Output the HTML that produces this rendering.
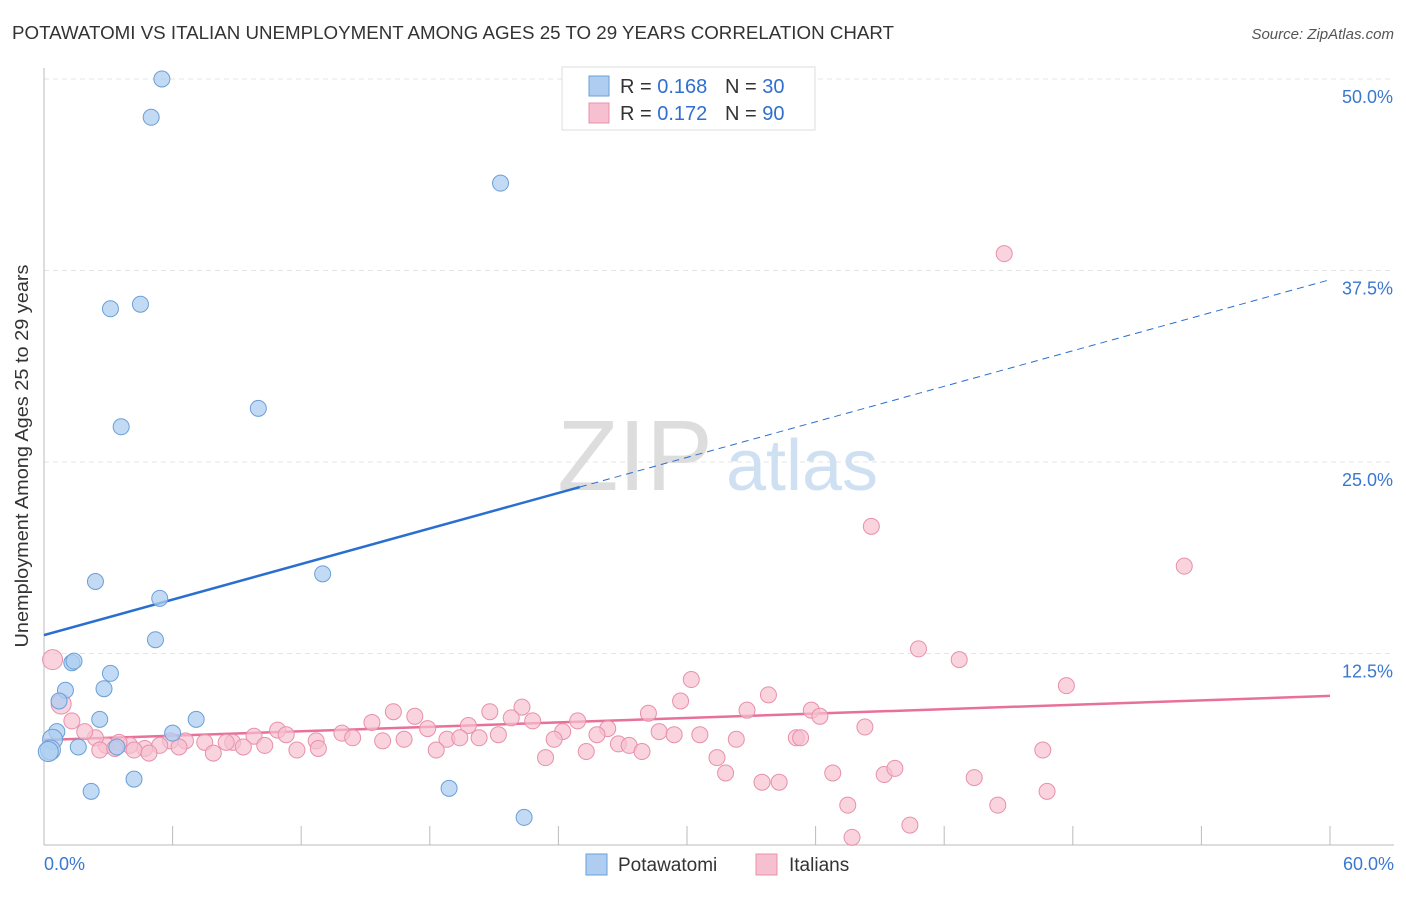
<!DOCTYPE html>
<html><head><meta charset="utf-8"><style>
body{margin:0;background:#fff;font-family:"Liberation Sans",sans-serif;}
svg text{font-family:"Liberation Sans",sans-serif;}
</style></head><body>
<svg id="chart" width="1406" height="892" xmlns="http://www.w3.org/2000/svg">
<text x="12" y="39" font-size="18.5" fill="#333" textLength="882" lengthAdjust="spacingAndGlyphs">POTAWATOMI VS ITALIAN UNEMPLOYMENT AMONG AGES 25 TO 29 YEARS CORRELATION CHART</text>
<text x="1394" y="39" font-size="15" fill="#555" text-anchor="end" font-style="italic">Source: ZipAtlas.com</text>
<g id="grid"></g>
<g><text x="635" y="490" font-size="100" fill="#ddd" text-anchor="middle" font-family="Liberation Serif">ZIP</text><text x="802" y="490" font-size="72" fill="#cfe0f3" text-anchor="middle">atlas</text></g>
<g id="axes"></g>
<g id="lines"></g>
<g id="points"></g>
<text x="28" y="456" font-size="18" fill="#333" text-anchor="middle" textLength="383" lengthAdjust="spacingAndGlyphs" transform="rotate(-90 28 456)">Unemployment Among Ages 25 to 29 years</text>
<g>
<rect x="562" y="67" width="253" height="63" fill="#fff" stroke="#ddd"/>
<rect x="589" y="76" width="20" height="20" fill="#aecdf0" stroke="#6a9fd8"/>
<rect x="589" y="103" width="20" height="20" fill="#f7c0d0" stroke="#e890aa"/>
<text x="620" y="93" font-size="20" fill="#333">R = <tspan fill="#2f6fcf">0.168</tspan></text>
<text x="725" y="93" font-size="20" fill="#333">N = <tspan fill="#2f6fcf">30</tspan></text>
<text x="620" y="120" font-size="20" fill="#333">R = <tspan fill="#2f6fcf">0.172</tspan></text>
<text x="725" y="120" font-size="20" fill="#333">N = <tspan fill="#2f6fcf">90</tspan></text>
</g>
<g>
<rect x="586" y="854" width="21" height="21" fill="#aecdf0" stroke="#6a9fd8"/>
<text x="618" y="871" font-size="19" fill="#333">Potawatomi</text>
<rect x="756" y="854" width="21" height="21" fill="#f7c0d0" stroke="#e890aa"/>
<text x="789" y="871" font-size="19" fill="#333">Italians</text>
</g>
</svg>
<script>
const yTicks=[12.5,25,37.5,50];
const yTickLabels=["12.5%","25.0%","37.5%","50.0%"];
const xTicks=[0,6,12,18,24,30,36,42,48,54,60];
const blueX=[5.5,5,21.3,3.1,4.5,10,3.6,2.4,13,5.4,5.2,1.3,1.4,3.1,1,2.8,0.7,2.6,7.1,6,0.6,0.4,0.3,0.2,1.6,3.4,4.2,2.2,18.9,22.4];
const blueY=[50,47.5,43.2,35,35.3,28.5,27.3,17.2,17.7,16.1,13.4,11.9,12,11.2,10.1,10.2,9.4,8.2,8.2,7.3,7.4,6.9,6.2,6.1,6.4,6.4,4.3,3.5,3.7,1.8];
const pinkX=[44.8,38.6,53.2,40.8,42.7,47.7,0.4,0.8,1.3,30.2,29.7,33.8,32.8,35.8,36.2,38.3,22.3,20.8,21.8,16.3,17.3,15.3,17.9,19.8,22.8,24.9,26.3,28.2,28.7,29.4,30.6,32.3,35.1,35.3,24.2,25.8,23.8,18.8,19.4,20.3,21.2,13.9,14.4,15.8,16.8,12.7,10.9,11.3,9.8,8.8,8.5,7.5,6.6,5.9,5.4,4.7,4,3.5,2.9,2.4,1.9,2.6,3.3,4.2,4.9,6.3,7.9,9.3,10.3,11.8,12.8,18.3,23.4,25.3,26.8,27.3,27.9,31.4,31.8,33.5,34.3,36.8,39.2,39.7,43.4,46.6,44.5,46.8,37.5,40.4,37.7];
const pinkY=[38.6,20.8,18.2,12.8,12.1,10.4,12.1,9.2,8.1,10.8,9.4,9.8,8.8,8.8,8.4,7.7,9.0,8.7,8.3,8.7,8.4,8.0,7.6,7.8,8.1,8.1,7.6,8.6,7.4,7.2,7.2,6.9,7.0,7.0,7.4,7.2,6.9,6.9,7.0,7.0,7.2,7.3,7.0,6.8,6.9,6.8,7.5,7.2,7.1,6.7,6.7,6.7,6.8,6.8,6.5,6.3,6.5,6.7,6.5,7.0,7.4,6.2,6.3,6.2,6.0,6.4,6.0,6.4,6.5,6.2,6.3,6.2,5.7,6.1,6.6,6.5,6.1,5.7,4.7,4.1,4.1,4.7,4.6,5.0,4.4,6.2,2.6,3.5,2.6,1.3,0.5];
const blueTrend=[13.7,36.9];
const pinkTrend=[6.85,9.73];
const X=v=>44+v/60*1286, Y=v=>845-v/12.5*191.5;
const NS="http://www.w3.org/2000/svg";
function mk(tag,attrs,parent){const e=document.createElementNS(NS,tag);for(const k in attrs)e.setAttribute(k,attrs[k]);document.getElementById(parent).appendChild(e);return e;}
yTicks.forEach((t,i)=>{
 const l=mk('line',{x1:44,x2:1394,y1:Y(t),y2:Y(t),stroke:'#e4e4e4','stroke-dasharray':'5,4'},'grid');
 
 
 const tx=mk('text',{x:1393,y:Y(t)+24,'font-size':18,fill:'#3a78d0','text-anchor':'end'},'axes');
 tx.textContent=yTickLabels[i];
 
 
});
let ax=mk('line',{x1:44,x2:44,y1:68,y2:845,stroke:'#bbb'},'axes');

ax=mk('line',{x1:44,x2:1394,y1:845,y2:845,stroke:'#bbb'},'axes');

xTicks.forEach(t=>{const l=mk('line',{x1:X(t),x2:X(t),y1:826,y2:845,stroke:'#bbb'},'axes');
 
 });
let t0=mk('text',{x:44,y:870,'font-size':18,fill:'#3a78d0'},'axes');t0.textContent='0.0%';

t0=mk('text',{x:1394,y:870,'font-size':18,fill:'#3a78d0','text-anchor':'end'},'axes');t0.textContent='60.0%';

pinkX.forEach((x,i)=>{const c=mk('circle',{cx:X(x),cy:Y(pinkY[i]),r:(x<1?10:8),fill:'#f7c0d0','fill-opacity':0.7,stroke:'#e890aa','stroke-width':1},'points');
 
 });
blueX.forEach((x,i)=>{const c=mk('circle',{cx:X(x),cy:Y(blueY[i]),r:(x<0.5?10:8),fill:'#aecdf0','fill-opacity':0.75,stroke:'#6a9fd8','stroke-width':1},'points');
 
 });
const bx=25;const by=blueTrend[0]+(blueTrend[1]-blueTrend[0])*bx/60;
let ln=mk('line',{x1:X(0),y1:Y(blueTrend[0]),x2:X(bx),y2:Y(by),stroke:'#2a6fd0','stroke-width':2.5},'lines');

ln=mk('line',{x1:X(bx),y1:Y(by),x2:X(60),y2:Y(blueTrend[1]),stroke:'#2a6fd0','stroke-width':1,'stroke-dasharray':'7,5'},'lines');

ln=mk('line',{x1:X(0),y1:Y(pinkTrend[0]),x2:X(60),y2:Y(pinkTrend[1]),stroke:'#e8709a','stroke-width':2.5},'lines');

</script>
</body></html>
